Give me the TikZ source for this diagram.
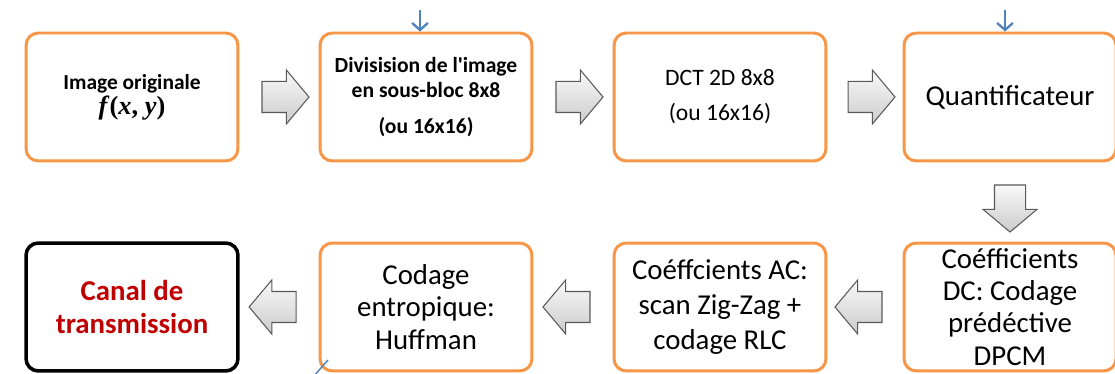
\documentclass[tikz,border=0pt]{standalone}
\usepackage{fontspec}
\setmainfont{Carlito}
\newfontfamily\tnr{Liberation Serif}
\usetikzlibrary{shapes.arrows,calc,arrows.meta}
\definecolor{boxorange}{RGB}{247,150,70}
\definecolor{feedblue}{RGB}{79,129,189}
\definecolor{canalred}{RGB}{192,0,0}
\tikzset{
	stage/.style={draw=boxorange, line width=1.7pt, rounded corners=7pt, fill=white,
		minimum width=4.24cm, minimum height=2.56cm, align=center, inner sep=1pt},
	blockarrow/.style={single arrow, draw=black!65, line width=0.6pt, top color=gray!5,
		bottom color=gray!40, minimum height=0.94cm, inner xsep=0pt, inner ysep=0.3cm,
		single arrow head extend=0.23cm, single arrow tip angle=100},
	feed/.style={draw=feedblue, line width=1.3pt, -{Straight Barb[length=4pt,width=9pt]}},
	big/.style={font=\fontsize{16.4}{18.3}\selectfont},
}
\begin{document}
\begin{tikzpicture}[x=0.02cm,y=-0.02cm]
		\useasboundingbox (0,0) rectangle (1115,374);

		% first row
		\node[stage, font=\fontsize{12.2}{13.2}\selectfont\bfseries] (b1) at (132,97)
			{Image originale\\[1pt] {\tnr\fontsize{15}{15}\selectfont\textit{f}(\textit{x}, \textit{y})}};
		\node[stage, font=\fontsize{12.3}{14.2}\selectfont\bfseries] (b2) at (426,97)
			{Divisision de l\textquotesingle image\\ en sous-bloc 8x8\\[6pt] (ou 16x16)};
		\node[stage, font=\fontsize{13.4}{20}\selectfont] (b3) at (720,97) {DCT 2D 8x8\\ (ou 16x16)};
		\node[stage, big] (b4) at (1010,97) {Quantificateur};

		% second row
		\node[stage, draw=black, line width=2pt, text=canalred,
			font=\fontsize{16.4}{18.3}\selectfont\bfseries] (c1) at (132,307) {Canal de\\ transmission};
		\node[stage, big] (c2) at (426,307) {Codage\\ entropique:\\ Huffman};
		\node[stage, font=\fontsize{16.4}{19.8}\selectfont] (c3) at (720,307)
			{Coéffcients AC:\\ scan Zig-Zag +\\ codage RLC};
		\node[stage, big] (c4) at (1010,307) {Coéfficients\\ DC: Codage\\ prédéctive\\ DPCM};

		% block arrows
		\node[blockarrow] (a1) at ($(b1.east)!0.5!(b2.west)$) {};
		\node[blockarrow] (a2) at ($(b2.east)!0.5!(b3.west)$) {};
		\node[blockarrow] (a3) at ($(b3.east)!0.5!(b4.west)$) {};
		\node[blockarrow, rotate=-90] (a4) at ($(b4.south)!0.5!(c4.north)$) {};
		\node[blockarrow, shape border rotate=180] (a5) at ($(c4.west)!0.5!(c3.east)$) {};
		\node[blockarrow, shape border rotate=180] (a6) at ($(c3.west)!0.5!(c2.east)$) {};
		\node[blockarrow, shape border rotate=180] (a7) at ($(c2.west)!0.5!(c1.east)$) {};

		% small blue feeds
		\coordinate (q2) at (420,10);
		\coordinate (q4) at (1005,10);
		\draw[feed] (q2) -- (q2 |- b2.north);
		\draw[feed] (q4) -- (q4 |- b4.north);
		\coordinate (h1) at (313,377);
		\coordinate (h2) at (328,360);
		\draw[feedblue, line width=0.8pt] (h1) -- (h2);
	\end{tikzpicture}
\end{document}
